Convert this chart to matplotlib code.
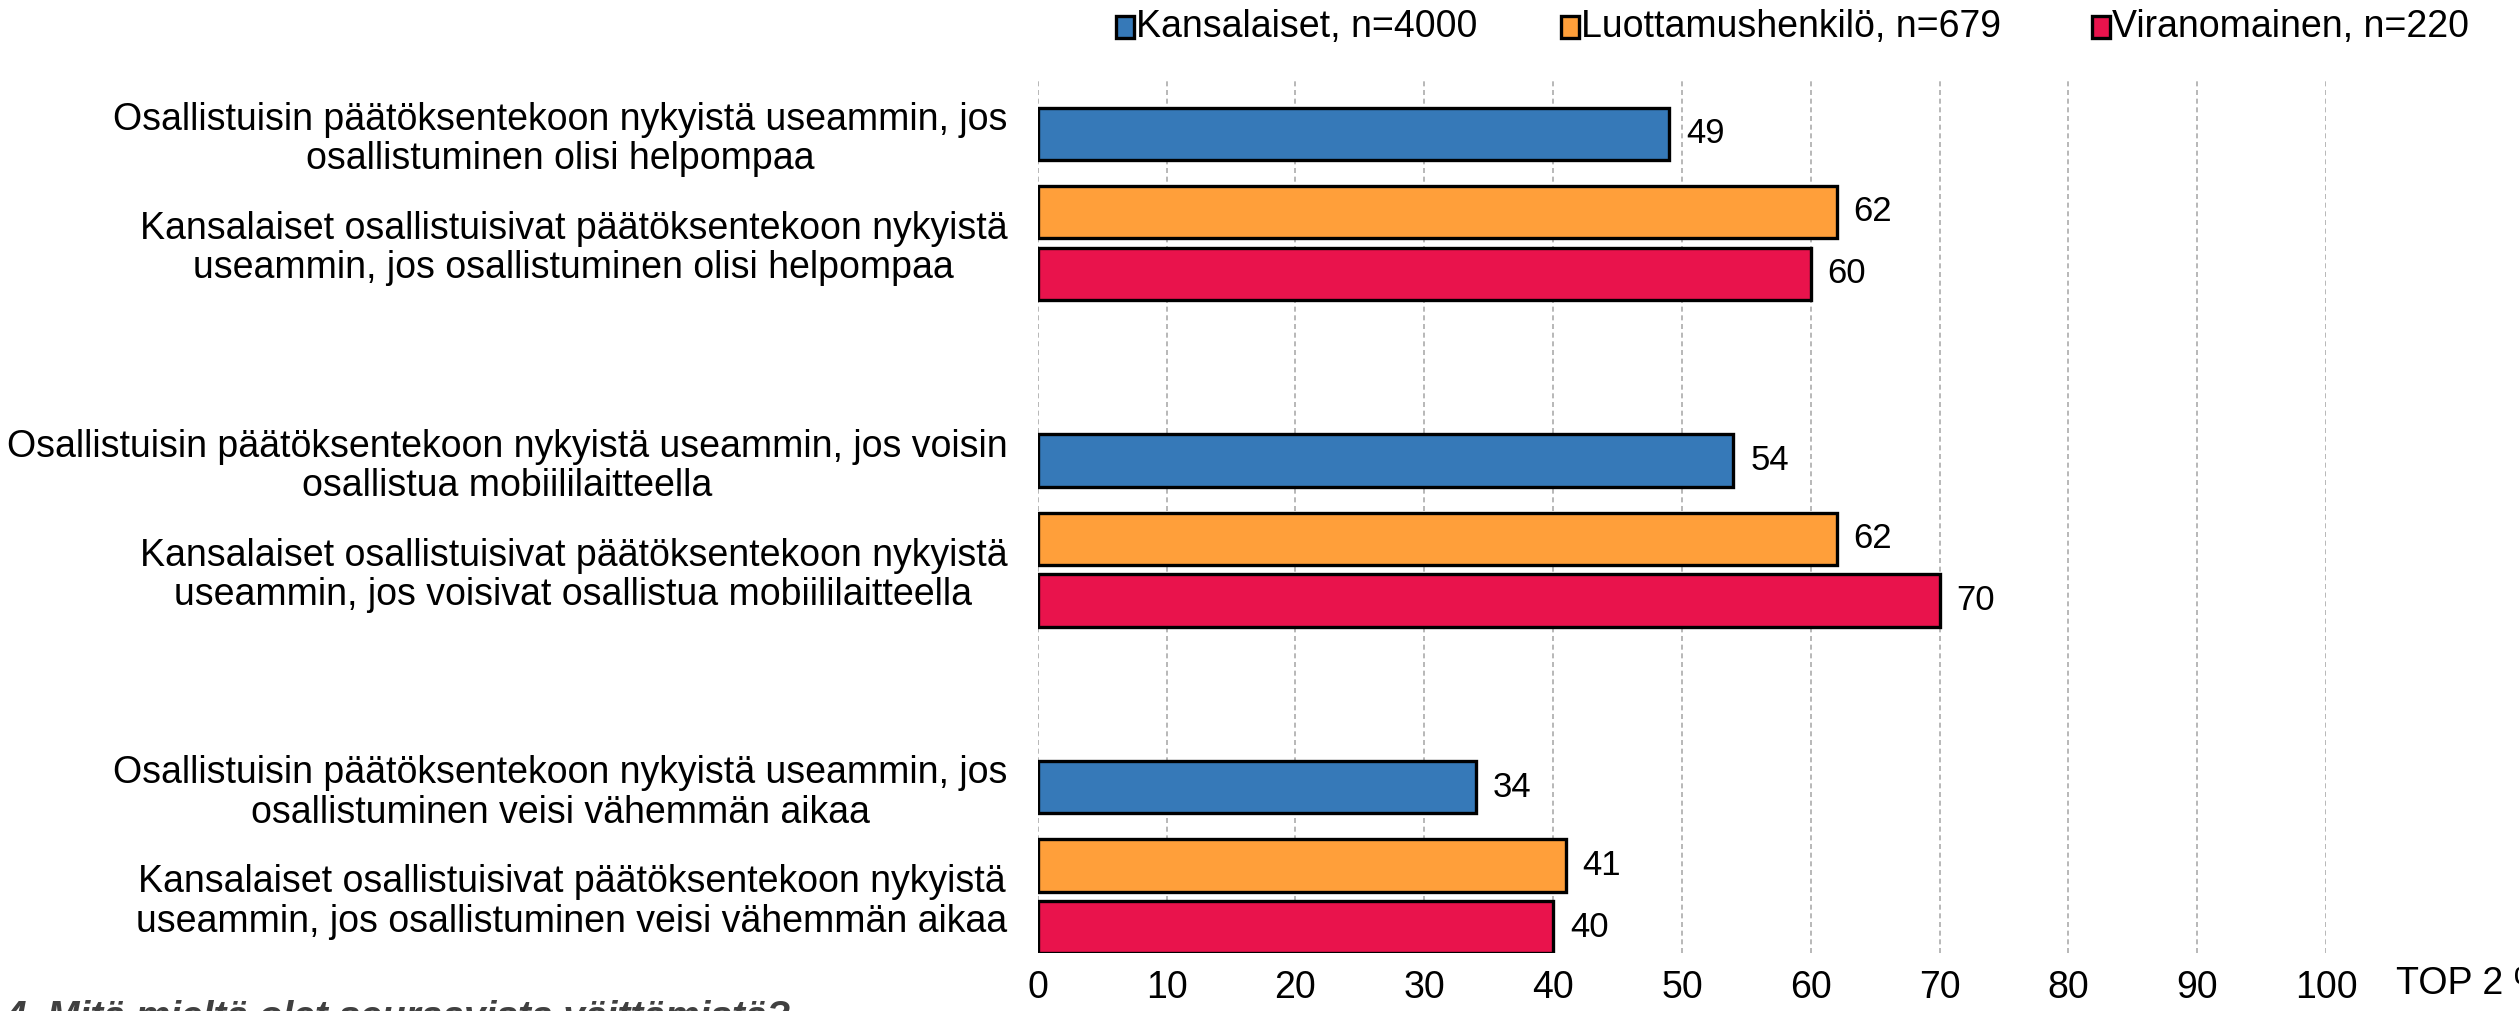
import matplotlib.pyplot as plt
from matplotlib.patches import Rectangle

plt.rcParams["font.family"] = ["Liberation Sans", "DejaVu Sans"]

# Data
self_labels = [
    "Osallistuisin päätöksentekoon nykyistä useammin, jos\nosallistuminen olisi helpompaa",
    "Osallistuisin päätöksentekoon nykyistä useammin, jos voisin\nosallistua mobiililaitteella",
    "Osallistuisin päätöksentekoon nykyistä useammin, jos\nosallistuminen veisi vähemmän aikaa",
]
others_labels = [
    "Kansalaiset osallistuisivat päätöksentekoon nykyistä\nuseammin, jos osallistuminen olisi helpompaa",
    "Kansalaiset osallistuisivat päätöksentekoon nykyistä\nuseammin, jos voisivat osallistua mobiililaitteella",
    "Kansalaiset osallistuisivat päätöksentekoon nykyistä\nuseammin, jos osallistuminen veisi vähemmän aikaa",
]
series_names = ["Kansalaiset, n=4000", "Luottamushenkilö, n=679", "Viranomainen, n=220"]
kansalaiset = [49, 54, 34]
luottamus = [62, 62, 41]
viranomainen = [60, 70, 40]
x_ticks = [0, 10, 20, 30, 40, 50, 60, 70, 80, 90, 100]

colors = ["#3679B8", "#FF9F3A", "#E9134C"]

# layout: one group per statement pair, y grows downward
offsets = [0.0, 0.239, 0.428]
bar_h = 0.16

fig = plt.figure(figsize=(25.19, 10.11), dpi=100)
ax = fig.add_axes([0.412, 0.0574, 0.5114, 0.8645])

series = [kansalaiset, luottamus, viranomainen]
for s, (vals, col) in enumerate(zip(series, colors)):
    ys = [g + offsets[s] for g in range(len(vals))]
    ax.barh(ys, vals, height=bar_h, color=col, edgecolor="black", linewidth=2.4, zorder=3)
    for y, v in zip(ys, vals):
        ax.text(v + 1.3, y, str(v), va="center", ha="left", fontsize=25, zorder=4)

ytick_pos = []
ytick_lab = []
for g in range(len(self_labels)):
    ytick_pos.append(g + offsets[0])
    ytick_lab.append(self_labels[g])
    ytick_pos.append(g + (offsets[1] + offsets[2]) / 2)
    ytick_lab.append(others_labels[g])
ax.set_yticks(ytick_pos)
ax.set_yticklabels(ytick_lab, fontsize=27, linespacing=1.12)
for lbl in ax.get_yticklabels():
    lbl.set_multialignment("center")

ax.set_ylim(2.507, -0.168)
ax.set_xlim(0, 100)
ax.set_xticks(x_ticks)
ax.tick_params(axis="x", labelsize=27, length=0, pad=12)
ax.tick_params(axis="y", length=0, pad=22)
ax.grid(axis="x", color="#ABABAB", linestyle=(0, (3, 2.2)), linewidth=1.2, zorder=0)
for sp in ax.spines.values():
    sp.set_visible(False)

fig.text(0.951, 0.027, "TOP 2 %", fontsize=27, ha="left", va="center")

# legend
leg_x = [0.4466, 0.6233, 0.834]
leg_y = 0.973
for x0, c, name in zip(leg_x, colors, series_names):
    fig.add_artist(Rectangle((x0 - 0.0035, leg_y - 0.011), 0.007, 0.022, transform=fig.transFigure,
                             facecolor=c, edgecolor="black", linewidth=2.4))
    fig.text(x0 + 0.0045, leg_y, name, fontsize=27, ha="left", va="center")

fig.text(0.002, 0.011, "4. Mitä mieltä olet seuraavista väittämistä?", fontsize=28,
         fontweight="bold", fontstyle="italic", color="#404040", ha="left", va="top")

fig.savefig("out.png", dpi=100)
